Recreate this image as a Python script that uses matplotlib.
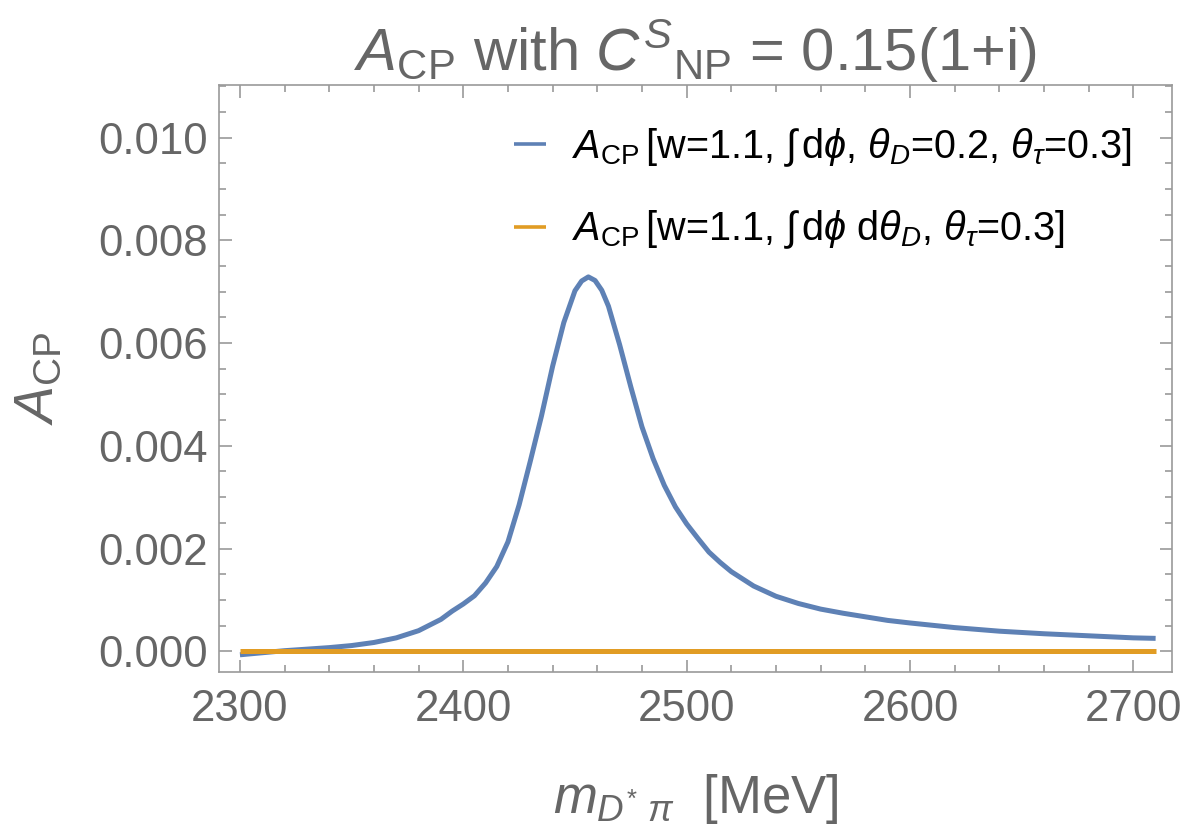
import matplotlib
matplotlib.use("Agg")
import matplotlib.pyplot as plt
from matplotlib.ticker import MultipleLocator, FormatStrFormatter

# curve (MeV, A_CP)
m_blue = [2300, 2310, 2320, 2330, 2340, 2350, 2360, 2370, 2380, 2390,
          2395, 2400, 2405, 2410, 2415, 2420, 2425, 2430, 2435, 2440,
          2445, 2450, 2453, 2456, 2459, 2462, 2465, 2470, 2475, 2480,
          2485, 2490, 2495, 2500, 2505, 2510, 2515, 2520, 2530, 2540,
          2550, 2560, 2570, 2580, 2590, 2600, 2620, 2640, 2660, 2680,
          2700, 2710]
a_blue = [-0.00007, -0.00003, 0.00001, 0.00004, 0.00007, 0.00011, 0.00017, 0.00026, 0.00040, 0.00062,
          0.00078, 0.00092, 0.00108, 0.00133, 0.00165, 0.00213, 0.00285, 0.00370, 0.00458, 0.00555,
          0.00640, 0.00702, 0.00721, 0.00729, 0.00722, 0.00703, 0.00672, 0.00597, 0.00515, 0.00437,
          0.00375, 0.00323, 0.00281, 0.00248, 0.00220, 0.00193, 0.00173, 0.00155, 0.00127, 0.00107,
          0.00093, 0.00082, 0.00074, 0.00067, 0.00060, 0.00055, 0.00046, 0.00039, 0.00034, 0.00030,
          0.00026, 0.00025]

m_orange = [2300, 2710]
a_orange = [0.0, 0.0]

labels = [r"$A_{\mathrm{CP}}\,$[w=1.1, $\int\,$d$\phi$, $\theta_D$=0.2, $\theta_\tau$=0.3]",
          r"$A_{\mathrm{CP}}\,$[w=1.1, $\int\,$d$\phi$ d$\theta_D$, $\theta_\tau$=0.3]"]

txt = "#666666"
frame = "#9a9a9a"
plt.rcParams['font.family'] = ['Liberation Sans', 'DejaVu Sans']
plt.rcParams['mathtext.fontset'] = 'custom'
plt.rcParams['mathtext.rm'] = 'Liberation Sans'
plt.rcParams['mathtext.it'] = 'Liberation Sans:italic'
plt.rcParams['mathtext.bf'] = 'Liberation Sans:bold'

fig = plt.figure(figsize=(11.9, 8.32), dpi=100)
ax = fig.add_axes([0.184, 0.192, 0.801, 0.706])

ax.plot(m_blue, a_blue, color="#5e81b5", lw=3.6, label=labels[0], solid_capstyle='butt')
ax.plot(m_orange, a_orange, color="#e19c24", lw=3.6, label=labels[1], solid_capstyle='butt')

ax.set_xlim(2290.6, 2717.4)
ax.set_ylim(-0.00041, 0.01103)
ax.xaxis.set_major_locator(MultipleLocator(100))
ax.xaxis.set_minor_locator(MultipleLocator(20))
ax.yaxis.set_major_locator(MultipleLocator(0.002))
ax.yaxis.set_minor_locator(MultipleLocator(0.0005))
ax.yaxis.set_major_formatter(FormatStrFormatter('%.3f'))

ax.tick_params(which='both', direction='in', top=True, right=True, colors=frame,
               labelcolor=txt, labelsize=31.5, width=1.2)
ax.tick_params(which='major', length=9)
ax.tick_params(axis='y', which='major', pad=8)
ax.tick_params(axis='x', which='major', pad=12)
ax.tick_params(which='minor', length=5)
for s in ax.spines.values():
    s.set_color(frame)
    s.set_linewidth(1.2)

ax.set_xlabel(r"$m_{D^{*}\ \pi}$  [MeV]", fontsize=38, color=txt, labelpad=30)
ax.set_ylabel(r"$A_{\mathrm{CP}}$", fontsize=40, color=txt, labelpad=24)
ax.set_title(r"$A_{\mathrm{CP}}$ with $C^{S}{}_{\mathrm{NP}}$ = 0.15(1+i)", fontsize=43, color=txt, pad=6)

leg = ax.legend(loc='upper right', bbox_to_anchor=(0.995, 0.99), frameon=False, fontsize=28.5,
                handlelength=0.8, handletextpad=0.65, labelspacing=1.0, labelcolor='black')
for ln in leg.get_lines():
    ln.set_linewidth(2.6)

fig.savefig("out.png", dpi=100)
